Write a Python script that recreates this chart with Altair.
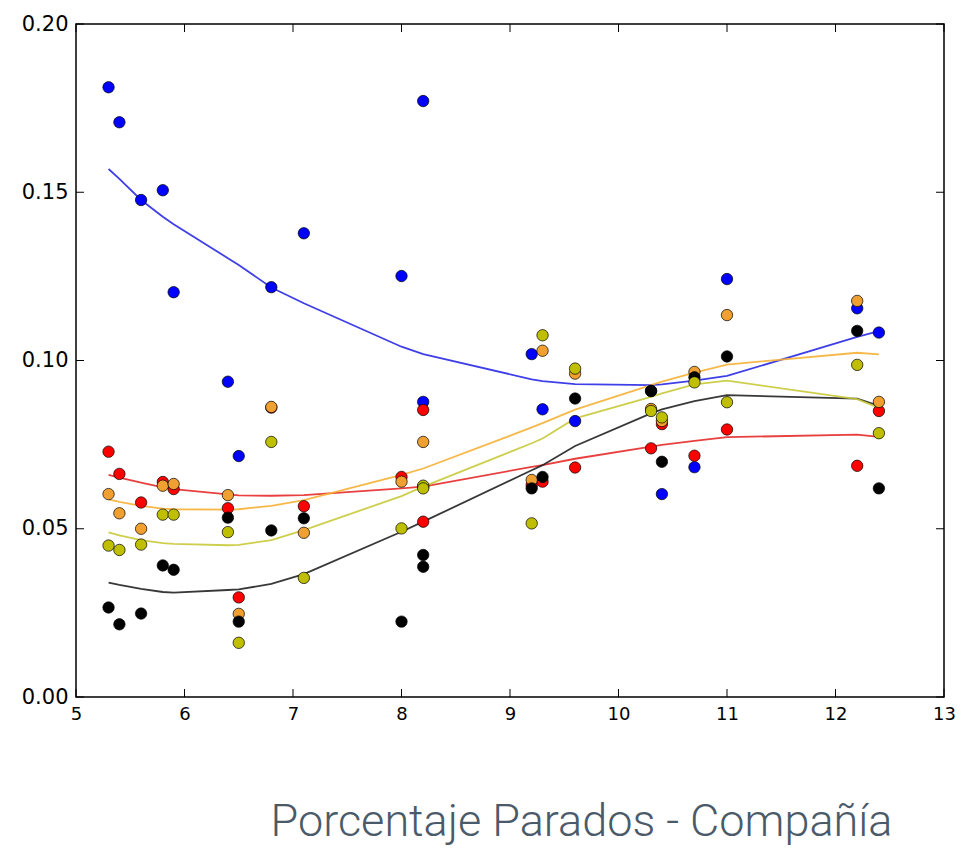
import altair as alt
import pandas as pd

# ---- data ----
series_names = ["azul", "rojo", "naranja", "negro", "oliva"]
point_colors = ["#0000ff", "#ff0000", "#f0a030", "#000000", "#bfbf00"]
line_colors = ["#2a2ae6", "#e62a2a", "#f5b035", "#222222", "#c9c93a"]

x_pts = [5.3, 5.4, 5.6, 5.8, 5.9, 6.4, 6.5, 6.8, 7.1, 8.0, 8.2, 8.2,
         9.2, 9.3, 9.6, 10.3, 10.4, 10.7, 11.0, 12.2, 12.4]
blue_pts = [0.1812, 0.1708, 0.1477, 0.1506, 0.1203, 0.0937, 0.0716, 0.1218, 0.1378, 0.1251, 0.1771, 0.0877,
            0.1019, 0.0855, 0.0820, 0.0910, 0.0603, 0.0683, 0.1242, 0.1155, 0.1083]
red_pts = [0.0729, 0.0663, 0.0578, 0.0639, 0.0618, 0.0561, 0.0296, 0.0860, 0.0567, 0.0654, 0.0853, 0.0521,
           0.0630, 0.0640, 0.0682, 0.0739, 0.0811, 0.0717, 0.0795, 0.0687, 0.0850]
orange_pts = [0.0603, 0.0546, 0.0500, 0.0628, 0.0633, 0.0600, 0.0247, 0.0862, 0.0488, 0.0640, 0.0758, 0.0625,
              0.0645, 0.1029, 0.0961, 0.0856, 0.0820, 0.0966, 0.1135, 0.1177, 0.0877]
black_pts = [0.0266, 0.0216, 0.0248, 0.0391, 0.0378, 0.0533, 0.0224, 0.0495, 0.0531, 0.0224, 0.0422, 0.0387,
             0.0620, 0.0654, 0.0887, 0.0909, 0.0699, 0.0950, 0.1012, 0.1088, 0.0620]
olive_pts = [0.0450, 0.0437, 0.0453, 0.0542, 0.0542, 0.0490, 0.0161, 0.0758, 0.0354, 0.0501, 0.0628, 0.0620,
             0.0516, 0.1075, 0.0976, 0.0850, 0.0831, 0.0935, 0.0876, 0.0987, 0.0784]

x_fit = [5.3, 5.4, 5.6, 5.8, 5.9, 6.4, 6.5, 6.8, 7.1, 8.0, 8.2,
         9.2, 9.3, 9.6, 10.3, 10.4, 10.7, 11.0, 12.2, 12.4]
blue_fit = [0.1569, 0.1540, 0.1477, 0.1427, 0.1405, 0.1304, 0.1284, 0.1217, 0.1170, 0.1041, 0.1019,
            0.0944, 0.0939, 0.0930, 0.0927, 0.0929, 0.0940, 0.0954, 0.1070, 0.1087]
red_fit = [0.0660, 0.0652, 0.0637, 0.0623, 0.0618, 0.0602, 0.0599, 0.0598, 0.0600, 0.0620, 0.0625,
           0.0684, 0.0689, 0.0708, 0.0744, 0.0749, 0.0761, 0.0772, 0.0780, 0.0773]
orange_fit = [0.0587, 0.0580, 0.0568, 0.0560, 0.0558, 0.0557, 0.0558, 0.0568, 0.0585, 0.0660, 0.0679,
              0.0801, 0.0814, 0.0854, 0.0927, 0.0937, 0.0964, 0.0988, 0.1023, 0.1018]
black_fit = [0.0340, 0.0333, 0.0321, 0.0312, 0.0310, 0.0318, 0.0320, 0.0336, 0.0365, 0.0491, 0.0521,
             0.0674, 0.0689, 0.0746, 0.0843, 0.0855, 0.0879, 0.0897, 0.0887, 0.0865]
olive_fit = [0.0489, 0.0480, 0.0466, 0.0457, 0.0455, 0.0451, 0.0452, 0.0466, 0.0496, 0.0597, 0.0625,
             0.0754, 0.0768, 0.0828, 0.0892, 0.0902, 0.0929, 0.0940, 0.0885, 0.0859]

x_ticks = [5, 6, 7, 8, 9, 10, 11, 12, 13]
y_ticks = [0.0, 0.05, 0.10, 0.15, 0.20]
title_text = "Porcentaje Parados - Compañía"

# ---- build tables ----
pts_series = [blue_pts, red_pts, orange_pts, black_pts, olive_pts]
fit_series = [blue_fit, red_fit, orange_fit, black_fit, olive_fit]

rows = []
for i, (name, vals) in enumerate(zip(series_names, pts_series)):
    for x, y in zip(x_pts, vals):
        rows.append({"serie": name, "orden": i, "x": x, "y": y})
pts_df = pd.DataFrame(rows)

rows = []
for i, (name, vals) in enumerate(zip(series_names, fit_series)):
    for x, y in zip(x_fit, vals):
        rows.append({"serie": name + "_fit", "orden": i, "x": x, "y": y})
fit_df = pd.DataFrame(rows)

W, H = 868, 673
LEFT, TOP, RIGHT, BOTTOM = 68, 16, 11, 148
xs = alt.Scale(domain=[5, 13], nice=False, zero=False)
ys = alt.Scale(domain=[0, 0.20], nice=False, zero=False)

x_axis = alt.Axis(values=x_ticks, format="d", ticks=False, domain=False, grid=False,
                  labelFont="DejaVu Sans", labelFontSize=18, labelColor="#000000",
                  labelPadding=8, title=None, labelFlush=False)
y_axis = alt.Axis(values=y_ticks, format=".2f", ticks=False, domain=False, grid=False,
                  labelFont="DejaVu Sans", labelFontSize=21, labelColor="#000000",
                  labelPadding=8, title=None, labelFlush=False)

lines = alt.Chart(fit_df).mark_line(strokeWidth=1.8, opacity=0.9, clip=True).encode(
    x=alt.X("x:Q", scale=xs, axis=x_axis),
    y=alt.Y("y:Q", scale=ys, axis=y_axis),
    color=alt.Color("serie:N", scale=alt.Scale(domain=[n + "_fit" for n in series_names], range=line_colors), legend=None),
    detail="serie:N",
    order="x:Q",
)

points = alt.Chart(pts_df).mark_point(filled=True, shape="circle", size=130, opacity=1,
                                       stroke="#000000", strokeWidth=0.7).encode(
    x=alt.X("x:Q", scale=xs),
    y=alt.Y("y:Q", scale=ys),
    fill=alt.Fill("serie:N", scale=alt.Scale(domain=series_names, range=point_colors), legend=None),
)

xt_df = pd.DataFrame({"t": x_ticks})
yt_df = pd.DataFrame({"t": y_ticks})
tick_len = 8
xt_bottom = alt.Chart(xt_df).mark_rule(color="#000000", strokeWidth=1).encode(
    x=alt.X("t:Q", scale=xs), y=alt.value(H), y2=alt.value(H - tick_len))
xt_top = alt.Chart(xt_df).mark_rule(color="#000000", strokeWidth=1).encode(
    x=alt.X("t:Q", scale=xs), y=alt.value(0), y2=alt.value(tick_len))
yt_left = alt.Chart(yt_df).mark_rule(color="#000000", strokeWidth=1).encode(
    y=alt.Y("t:Q", scale=ys), x=alt.value(0), x2=alt.value(tick_len))
yt_right = alt.Chart(yt_df).mark_rule(color="#000000", strokeWidth=1).encode(
    y=alt.Y("t:Q", scale=ys), x=alt.value(W), x2=alt.value(W - tick_len))

chart = alt.layer(lines, points, xt_bottom, xt_top, yt_left, yt_right).resolve_scale(
    color="independent", fill="independent"
).properties(
    width=W, height=H,
    autosize=alt.AutoSizeParams(type="none"),
    padding={"left": LEFT, "top": TOP, "right": RIGHT, "bottom": BOTTOM},
    title=alt.TitleParams(text=title_text, orient="bottom", anchor="end", dx=-63, offset=77,
                          font="Roboto", fontSize=45, fontWeight=300,
                          color="#4b5a69", baseline="top"),
    background="#ffffff",
).configure_view(stroke="#000000", strokeWidth=1.5)

chart.save("out.html", embed_options={"renderer": "svg", "actions": False})
